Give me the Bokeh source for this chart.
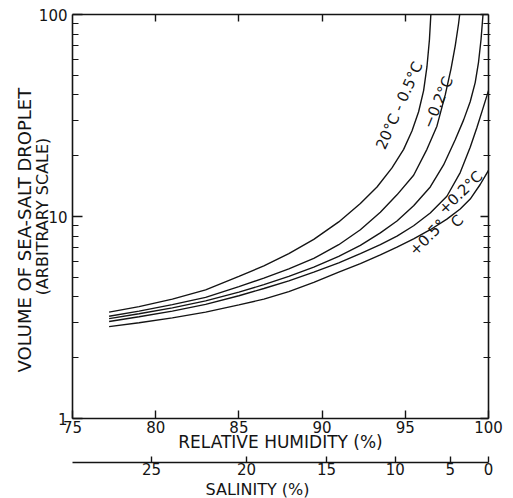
from bokeh.plotting import figure
from bokeh.models import Range1d, LinearAxis, LogAxis, FixedTicker, Label, Title
from bokeh.layouts import column
from bokeh.embed import file_html
from bokeh.resources import INLINE

# ---------------- data ----------------
# droplet temperature minus air temperature (air at 20 C)
rh_m05 = [77.2, 79, 81, 83, 85, 86.5, 88, 89.5, 91, 92.3, 93.3, 94.2, 94.9, 95.4, 95.8, 96.1, 96.3, 96.45, 96.55]
vol_m05 = [3.36, 3.58, 3.9, 4.33, 5.05, 5.7, 6.55, 7.7, 9.4, 11.6, 14.0, 17.4, 21.5, 26.5, 33, 42, 55, 75, 105]

rh_m02 = [77.2, 79, 81, 83, 85, 86.5, 88, 89.5, 91, 92.3, 93.5, 94.5, 95.5, 96.3, 96.9, 97.4, 97.75, 98.0, 98.2, 98.3]
vol_m02 = [3.21, 3.4, 3.66, 3.98, 4.5, 4.95, 5.5, 6.2, 7.25, 8.6, 10.5, 12.8, 16.0, 21.5, 28, 40, 54, 70, 90, 105]

rh_0 = [77.2, 79, 81, 83, 85, 86.5, 88, 89.5, 91, 92.3, 93.5, 94.5, 95.5, 96.5, 97.3, 98.0, 98.5, 98.9, 99.2, 99.4, 99.55, 99.67, 99.72]
vol_0 = [3.12, 3.3, 3.53, 3.82, 4.22, 4.6, 5.05, 5.62, 6.35, 7.2, 8.3, 9.5, 11.3, 14, 18, 24, 30, 37, 46, 58, 75, 100, 115]

rh_p02 = [77.2, 79, 81, 83, 85, 86.5, 88, 89.5, 91, 92.3, 93.5, 94.5, 95.5, 96.5, 97.5, 98.3, 98.9, 99.3, 99.7, 100]
vol_p02 = [3.02, 3.19, 3.4, 3.67, 4.05, 4.4, 4.8, 5.3, 5.9, 6.55, 7.25, 8.0, 9.0, 10.4, 12.6, 16.5, 22, 27.5, 35, 42]

rh_p05 = [77.2, 79, 81, 83, 85, 86.5, 88, 89.5, 91, 92.3, 93.5, 94.5, 95.5, 96.5, 97.5, 98.3, 98.9, 99.5, 100]
vol_p05 = [2.85, 2.98, 3.15, 3.36, 3.65, 3.9, 4.25, 4.72, 5.3, 5.85, 6.45, 7.05, 7.75, 8.6, 9.7, 10.9, 12.2, 14.4, 16.9]

rh_ticks = [75, 80, 85, 90, 95, 100]
vol_ticks = [1, 10, 100]
vol_tick_labels = ["1", "10", "100"]
salinity_labels = ["25", "20", "15", "10", "5", "0"]
salinity_rh = [79.75, 85.46, 90.26, 94.4, 97.7, 100.0]

curve_label_text = ["20°C - 0.5°C", "\u22120.2°C", "+0.5°", "C", "+0.2°C"]
curve_label_rh = [94.65, 96.97, 96.33, 98.12, 98.32]
curve_label_vol = [35.4, 36.7, 7.87, 9.46, 13.1]
curve_label_angle = [66, 67, 45, 45, 44]

x_title = "RELATIVE HUMIDITY (%)"
sal_title = "SALINITY (%)"
y_title_1 = "VOLUME OF SEA-SALT DROPLET"
y_title_2 = "(ARBITRARY SCALE)"

# ---------------- styling ----------------
FONT = "DejaVu Sans"
INK = "#141414"

p = figure(frame_width=416, frame_height=404,
           min_border_left=72, min_border_right=25, min_border_top=14, min_border_bottom=0,
           x_range=Range1d(75, 100), y_range=Range1d(1, 100), y_axis_type="log",
           toolbar_location=None, output_backend="svg", title=None)
p.outline_line_color = None
p.grid.visible = False

minor_vol = [k * 10 ** e for e in (0, 1) for k in range(2, 10)]


def style_axis(ax):
    ax.axis_line_color = INK
    ax.axis_line_width = 1.6
    ax.major_tick_line_color = INK
    ax.major_tick_line_width = 1.4
    ax.minor_tick_line_color = INK
    ax.minor_tick_line_width = 1.2
    ax.major_label_text_font = FONT
    ax.major_label_text_font_size = "15px"
    ax.major_label_text_color = INK
    ax.axis_label_text_font = FONT
    ax.axis_label_text_font_style = "normal"
    ax.axis_label_text_color = INK


# left (volume) axis, with the second title line as its label
yax = p.yaxis[0]
yax.ticker = FixedTicker(ticks=vol_ticks, minor_ticks=minor_vol)
yax.major_label_overrides = dict(zip(vol_ticks, vol_tick_labels))
style_axis(yax)
yax.major_tick_in = 10
yax.major_tick_out = 0
yax.minor_tick_in = 6
yax.minor_tick_out = 0
yax.major_label_standoff = 5
yax.axis_label = y_title_2
yax.axis_label_text_font_size = "16px"
yax.axis_label_standoff = -16

# first title line, outside the axis
p.add_layout(Title(text=y_title_1, align="left", offset=46, standoff=-10,
                   text_font=FONT, text_font_size="18px", text_font_style="normal",
                   text_color=INK), "left")

# bottom (relative humidity) axis
xax = p.xaxis[0]
xax.ticker = FixedTicker(ticks=rh_ticks, minor_ticks=[])
style_axis(xax)
xax.major_tick_in = 8
xax.major_tick_out = 0
xax.minor_tick_in = 0
xax.minor_tick_out = 0
xax.major_label_standoff = 2
xax.axis_label = x_title
xax.axis_label_text_font_size = "17px"
xax.axis_label_standoff = -4

# top frame axis (ticks only)
top = LinearAxis(ticker=FixedTicker(ticks=rh_ticks[1:-1], minor_ticks=[]))
style_axis(top)
top.major_tick_in = 7
top.major_tick_out = 0
top.minor_tick_in = 0
top.minor_tick_out = 0
top.major_label_text_color = None
p.add_layout(top, "above")

# right frame axis (ticks only)
right = LogAxis(ticker=FixedTicker(ticks=vol_ticks, minor_ticks=minor_vol))
style_axis(right)
right.major_tick_in = 8
right.major_tick_out = 0
right.minor_tick_in = 5
right.minor_tick_out = 2
right.major_label_text_color = None
p.add_layout(right, "right")

# curves
for xs, ys in [(rh_m05, vol_m05), (rh_m02, vol_m02), (rh_0, vol_0),
               (rh_p02, vol_p02), (rh_p05, vol_p05)]:
    p.line(xs, ys, line_color=INK, line_width=1.4)

# curve labels
for t, xv, yv, a in zip(curve_label_text, curve_label_rh, curve_label_vol, curve_label_angle):
    p.add_layout(Label(x=xv, y=yv, text=t, angle=a, angle_units="deg",
                       text_align="center", text_baseline="middle",
                       text_font=FONT, text_font_size="15px", text_color=INK))

# salinity scale (second figure holding only an axis)
p2 = figure(frame_width=416, frame_height=8,
            min_border_left=72, min_border_right=25, min_border_top=0, min_border_bottom=0,
            x_range=p.x_range, y_range=Range1d(0, 1),
            toolbar_location=None, output_backend="svg", title=None,
            x_axis_location="below", y_axis_location=None)
p2.outline_line_color = None
p2.grid.visible = False
sax = p2.xaxis[0]
sax.ticker = FixedTicker(ticks=salinity_rh, minor_ticks=[])
sax.major_label_overrides = dict(zip(salinity_rh, salinity_labels))
style_axis(sax)
sax.major_tick_in = 6
sax.major_tick_out = 0
sax.minor_tick_in = 0
sax.minor_tick_out = 0
sax.major_label_standoff = 0
p2.add_layout(Title(text=sal_title, align="left", offset=133, standoff=0,
                    text_font=FONT, text_font_size="16px", text_font_style="normal",
                    text_color=INK), "below")

layout = column(p, p2, spacing=0)
open("out.html", "w").write(file_html(layout, INLINE))
